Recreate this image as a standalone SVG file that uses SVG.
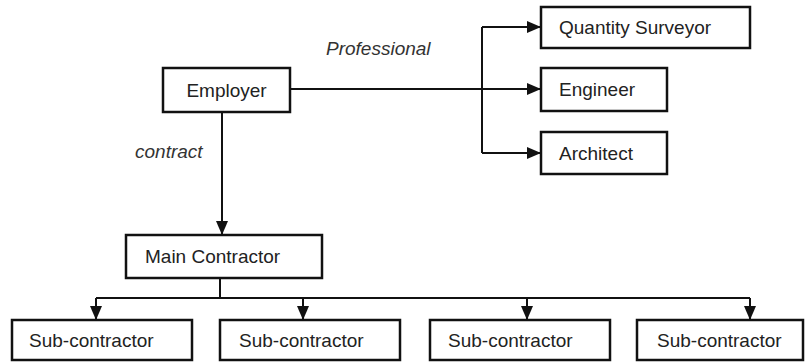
<svg xmlns="http://www.w3.org/2000/svg" width="809" height="362" viewBox="0 0 809 362">
<defs>
<style>
.box{fill:#fff;stroke:#111;stroke-width:2.5}
.lbl{font-family:"Liberation Sans",Arial,sans-serif;font-size:19px;fill:#222}
.it{font-family:"Liberation Sans",Arial,sans-serif;font-size:19px;font-style:italic;fill:#333}
.ln{fill:none;stroke:#111;stroke-width:2}
</style>
<marker id="ah" markerUnits="userSpaceOnUse" markerWidth="14" markerHeight="12" refX="14" refY="6" orient="auto">
<path d="M0,0 L14,6 L0,12 z" fill="#111"/>
</marker>
</defs>
<rect width="809" height="362" fill="#fff"/>
<g id="connectors">
<path class="ln" d="M290,89 H541" marker-end="url(#ah)"/>
<path class="ln" d="M482,27 V153"/>
<path class="ln" d="M482,27 H541" marker-end="url(#ah)"/>
<path class="ln" d="M482,153 H541" marker-end="url(#ah)"/>
<path class="ln" d="M222,112 V235" marker-end="url(#ah)"/>
<path class="ln" d="M220,278 V298"/>
<path class="ln" d="M96,298 H750"/>
<path class="ln" d="M96,298 V320" marker-end="url(#ah)"/>
<path class="ln" d="M303,298 V320" marker-end="url(#ah)"/>
<path class="ln" d="M527,298 V320" marker-end="url(#ah)"/>
<path class="ln" d="M750,298 V320" marker-end="url(#ah)"/>
</g>
<g id="labels">
<text class="it" x="326" y="55">Professional</text>
<text class="it" x="135" y="158">contract</text>
</g>
<g id="employer"><rect class="box" x="163" y="68" width="127" height="44"/><text class="lbl" x="226.5" y="97" text-anchor="middle">Employer</text></g>
<g id="quantity-surveyor"><rect class="box" x="541" y="7" width="209" height="41"/><text class="lbl" x="559" y="34">Quantity Surveyor</text></g>
<g id="engineer"><rect class="box" x="541" y="68" width="126" height="43"/><text class="lbl" x="559" y="96">Engineer</text></g>
<g id="architect"><rect class="box" x="541" y="132" width="126" height="42"/><text class="lbl" x="559" y="160">Architect</text></g>
<g id="main-contractor"><rect class="box" x="126" y="235" width="196" height="43"/><text class="lbl" x="145" y="263">Main Contractor</text></g>
<g id="sub1"><rect class="box" x="12" y="320" width="180" height="40"/><text class="lbl" x="29" y="347">Sub-contractor</text></g>
<g id="sub2"><rect class="box" x="220" y="320" width="180" height="40"/><text class="lbl" x="239" y="347">Sub-contractor</text></g>
<g id="sub3"><rect class="box" x="430" y="320" width="180" height="40"/><text class="lbl" x="448" y="347">Sub-contractor</text></g>
<g id="sub4"><rect class="box" x="637" y="320" width="166" height="40"/><text class="lbl" x="657" y="347">Sub-contractor</text></g>
</svg>
